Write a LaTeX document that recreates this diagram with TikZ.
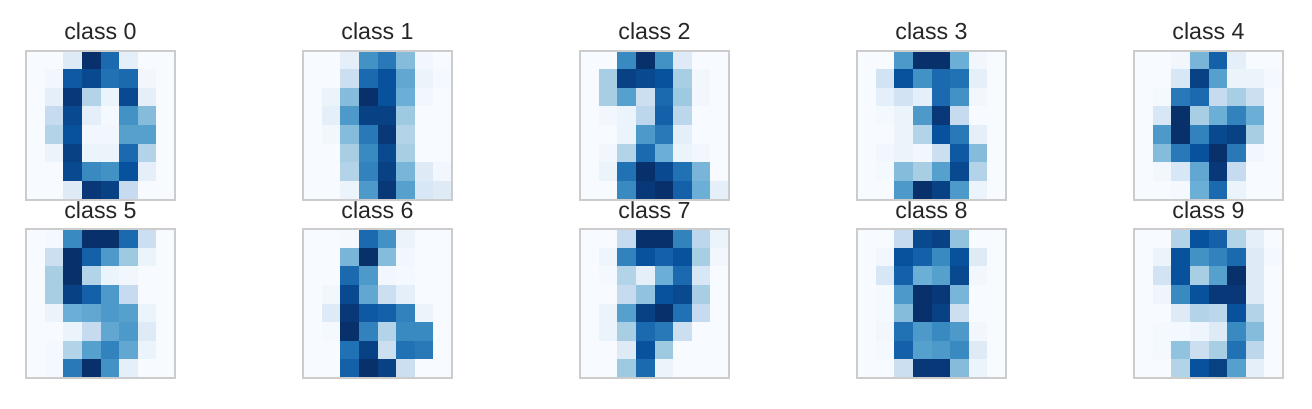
\documentclass[tikz,border=0pt]{standalone}
\usepackage{fontspec}
\setmainfont{Liberation Sans}
\definecolor{bl0}{HTML}{F7FBFF}
\definecolor{bl1}{HTML}{DEEBF7}
\definecolor{bl2}{HTML}{C6DBEF}
\definecolor{bl3}{HTML}{9ECAE1}
\definecolor{bl4}{HTML}{6BAED6}
\definecolor{bl5}{HTML}{4292C6}
\definecolor{bl6}{HTML}{2171B5}
\definecolor{bl7}{HTML}{08519C}
\definecolor{bl8}{HTML}{08306B}
\definecolor{txtgrey}{HTML}{262626}
\definecolor{framegrey}{HTML}{CCCCCC}
\tikzset{
  frame/.style={draw=framegrey,line width=1pt},
  title/.style={anchor=base,text=txtgrey,font=\fontsize{11.6}{14}\selectfont,inner sep=0pt}
}
% one 8x8 image: #1 left, #2 top, #3 class, #4 the 64 values (0..16)
\newcommand{\digitgrid}[4]{%
  \foreach \v [count=\k from 0] in {#4}{
    \pgfmathtruncatemacro\rw{floor(\k/8)}
    \pgfmathtruncatemacro\cl{mod(\k,8)}
    \pgfmathtruncatemacro\si{min(floor(\v/2),7)}
    \pgfmathtruncatemacro\sj{\si+1}
    \pgfmathsetmacro\st{(\v-2*\si)*50}
    \fill[bl\sj!\st!bl\si] (#1+\cl*18.625,#2+\rw*18.625) rectangle ++(19.1,19.1);
  }
  \draw[frame] (#1,#2) rectangle ++(149,149);
  \node[title] (c#3) at (#1+74.5,#2-11) {class #3};
}
\begin{document}
\begin{tikzpicture}[x=0.5pt,y=-0.5pt]
\useasboundingbox (0,0) rectangle (1312,408);
% top row
\digitgrid{26}{50.5}{0}{0,0,2,16,12.5,1.5,0,0,
 0,0.5,13.5,14.5,12,12.5,0.5,0,
 0,1.5,15.5,5,1,14.5,1.5,0,
 0,4,14.5,1.5,0.3,10,7,0,
 0,5,14,0.5,0.5,9,9,0,
 0,1,15,1,1,12.5,5,0,
 0,0,14.5,10.5,10,14,1.5,0,
 0,0,2,15.5,15,4,0,0}
\digitgrid{303}{50.5}{1}{0,0,1.5,10,11.5,7,0.5,0,
 0,0,3.5,12.5,14,8.5,1,0.3,
 0,1,7,16,14,8,0.5,0,
 0,1.5,9.5,15,15,6,0,0,
 0,0.5,7,11.5,15.5,5,0,0,
 0,0,5.5,10.5,14.5,5.5,0,0,
 0,0,5,11,15,7.5,2,0.5,
 0,0,1,9.5,15.5,9,2.5,2}
\digitgrid{580}{50.5}{2}{0,0,10.5,16,10,2,0,0,
 0,5.5,15,14.5,14,5.5,0.5,0,
 0,5.5,9,3.5,12.5,6,0.5,0,
 0,0.5,1,4.5,13,4.5,0,0,
 0,0,1,9.5,11.5,1.5,0,0,
 0,0.5,5,12.5,8,1,0.5,0,
 0,1,12,16,14.5,12,7.5,0,
 0,0,10.5,15.5,16,13,8,1.5}
\digitgrid{857}{50.5}{3}{0,0,9.5,16,16,8,0.5,0,
 0,3,14,10,12.5,12,1.5,0,
 0,1.5,3,1.5,12.5,10,0.5,0,
 0,0.3,1,9.5,15.5,4,0,0,
 0,0,1,5,14,11.5,1.5,0,
 0,0.5,1,0.5,3.5,13.5,7,0,
 0,0.3,7,5.5,9,14.5,5,0,
 0,0,9.5,16,15,9.5,1,0}
\digitgrid{1134}{50.5}{4}{0,0,0.5,7.5,13,1.5,0,0,
 0,0,2.5,15,9,1,1,0.3,
 0,0.3,11.5,12.5,4,5.5,3.5,0,
 0,2.5,16,5.5,8,11,8,0,
 0,9.5,16,11,14.5,15,5.5,0,
 0,7,11.5,14,16,11.5,0.5,0,
 0,0.5,2.5,8.5,15.5,4,0,0,
 0,0,0.3,8,12.5,1,0,0}
% bottom row
\digitgrid{26}{229}{5}{0,0.3,10.5,16,16,12.5,3.5,0,
 0,3.5,16,13,9.5,6,1,0,
 0,5.5,16,5,1,0.5,0,0,
 0,5.5,15,13,9.5,4,0,0,
 0,1,8,8.5,9.5,9,1,0,
 0,0,1,4,8.5,9.5,2,0,
 0,0.3,5,9,11,8.5,1,0,
 0,0.3,11.5,16,10,1.5,0,0}
\digitgrid{303}{229}{6}{0,0,0.3,12.5,10,1,0,0,
 0,0,7.5,16,7,0.5,0,0,
 0,0,12.5,9.5,0.5,0.3,0,0,
 0,0.5,14.5,8.5,3.5,1.5,0,0,
 0,2,15.5,13.5,13,11,1,0,
 0,0.3,16,11,5,10.5,10.5,0,
 0,0,12,15,3.5,12,11.5,0,
 0,0,13,16,15,3.5,0,0}
\digitgrid{580}{229}{7}{0,0,4,16,16,11,4.5,1,
 0,0.7,11,14,13,14,5.5,0.5,
 0,0.3,5,1.5,8,12.5,2.5,0,
 0,0,4,6.5,14,14.5,5.5,0,
 0,1,9,15,16,12,4,0,
 0,1,5.5,12.5,11.5,3.5,0,0,
 0,0,2,14,6,0,0,0,
 0,0,6,12.5,1,0,0,0}
\digitgrid{857}{229}{8}{0,0,4,14.5,15,6.5,0,0,
 0,0.5,14,13,10.5,14,2,0,
 0,2.5,13,8,9,14.5,0.5,0,
 0,0.3,9.5,16,15.5,7.5,0,0,
 0,0.3,7,16,15,3.5,0,0,
 0,0.5,12,9.5,10.5,9.5,0.5,0,
 0,0.3,13,9,9.5,10.5,2,0,
 0,0,3.5,15.5,15.5,7,1,0}
\digitgrid{1134}{229}{9}{0,0,5,14,13,5,1.5,0,
 0,1,14,10,11,12.5,2,0.3,
 0,3,14,5.5,9,16,2,0,
 0,0.7,10.5,14,15.5,15.5,2,0,
 0,0,2,5,4.5,14,5,0,
 0,0.3,0.3,0.7,2,10.5,7,0,
 0,0.3,6.5,3.5,5.5,12,4.5,0,
 0,0,5,14,15,9,1.5,0}
\end{tikzpicture}
\end{document}
